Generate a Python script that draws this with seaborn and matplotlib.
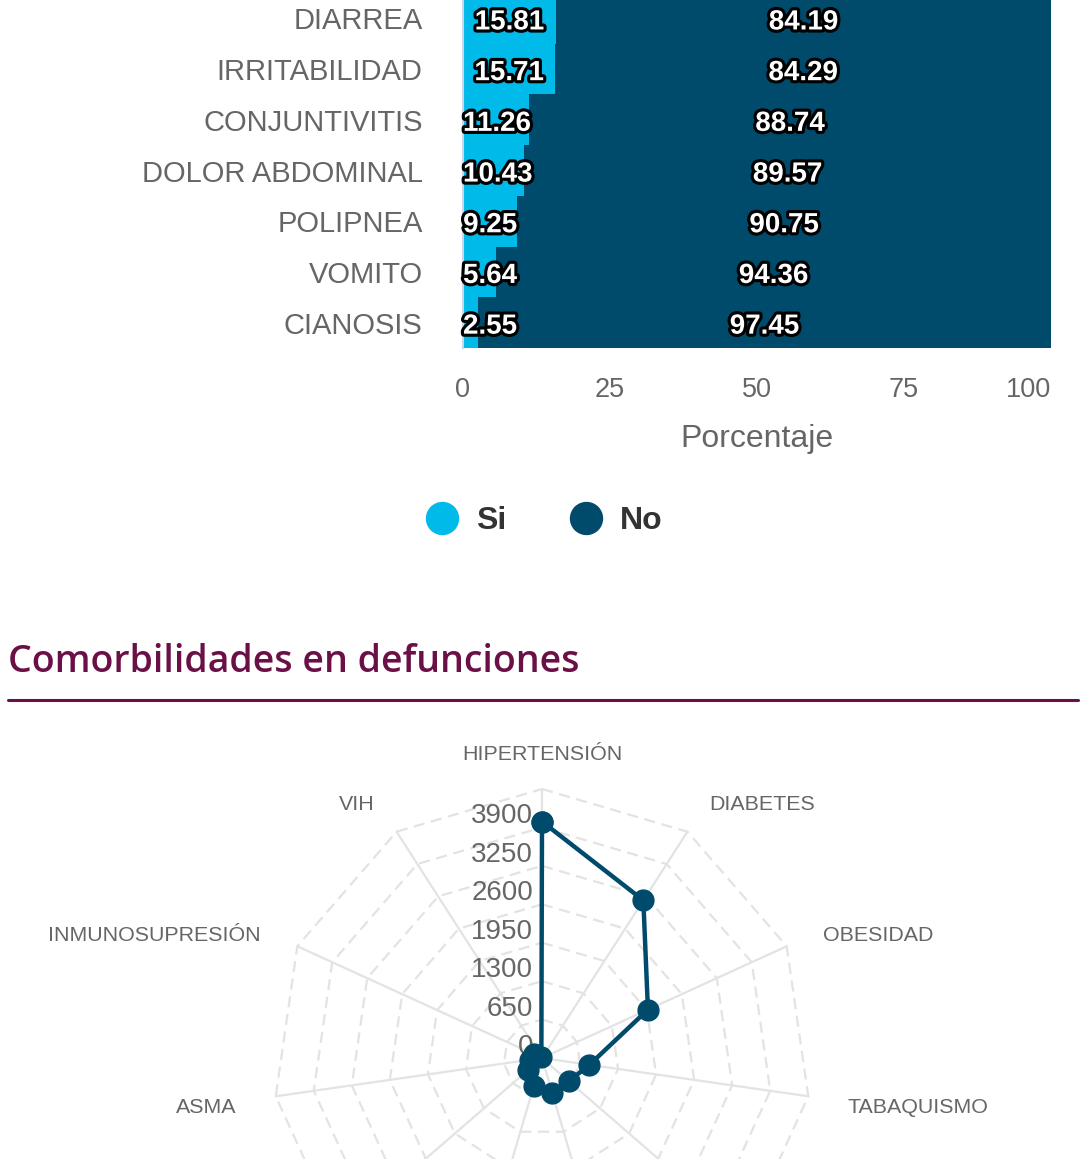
import numpy as np
import matplotlib
matplotlib.use("Agg")
import matplotlib.pyplot as plt
import matplotlib.patheffects as pe
from matplotlib.lines import Line2D
from matplotlib.transforms import offset_copy
import seaborn as sns

# ---------------- data ----------------
sintomas = ["DIARREA", "IRRITABILIDAD", "CONJUNTIVITIS", "DOLOR ABDOMINAL",
            "POLIPNEA", "VOMITO", "CIANOSIS"]
si_pct = [15.81, 15.71, 11.26, 10.43, 9.25, 5.64, 2.55]
no_pct = [84.19, 84.29, 88.74, 89.57, 90.75, 94.36, 97.45]
x_ticks = [0, 25, 50, 75, 100]
x_label = "Porcentaje"
legend_labels = ["Si", "No"]

titulo = "Comorbilidades en defunciones"
comorbilidades = ["HIPERTENSIÓN", "DIABETES", "OBESIDAD", "TABAQUISMO",
                  "RENAL CRÓNICA", "CARDIOVASCULAR", "EPOC", "OTRA CONDICIÓN",
                  "ASMA", "INMUNOSUPRESIÓN", "VIH"]
defunciones = [4000, 3170, 1970, 810, 600, 625, 490, 310, 200, 150, 20]
radial_ticks = [0, 650, 1300, 1950, 2600, 3250, 3900]
radial_max = 4550

# ---------------- style ----------------
C_SI = "#00bbea"
C_NO = "#004b6b"
C_TXT = "#666666"
C_GRID = "#e3e3e3"
C_TITLE = "#6b1046"

sns.set_theme(style="white")
plt.rcParams["font.family"] = ["Liberation Sans", "DejaVu Sans"]

W, H = 1091, 1159
fig = plt.figure(figsize=(W / 100, H / 100), dpi=100)
fig.patch.set_facecolor("white")

def fx(px):
    return px / W

def fy(py):
    return 1 - py / H

# ---------------- stacked bar chart ----------------
row_h = 50.7
n = len(sintomas)
bar_bottom = 348
bar_top = bar_bottom - n * row_h
ax = fig.add_axes([fx(463), fy(bar_bottom), fx(1051) - fx(463), (bar_bottom - bar_top) / H])
ax.set_facecolor("white")

totals = [s + o for s, o in zip(si_pct, no_pct)]
sns.barplot(x=totals, y=sintomas, orient="h", color=C_NO, saturation=1,
            width=1.0, linewidth=0, ax=ax, zorder=2)
sns.barplot(x=si_pct, y=sintomas, orient="h", color=C_SI, saturation=1,
            width=1.0, linewidth=0, ax=ax, zorder=3)

ax.set_xlim(0, 100)
ax.set_ylim(n - 0.5, -0.5)
ax.set_xticks(x_ticks)
ax.set_xticklabels([str(t) for t in x_ticks])
ax.tick_params(axis="x", length=0, pad=21, labelsize=19.5, labelcolor=C_TXT)
ax.tick_params(axis="y", length=0, pad=29, labelsize=21, labelcolor=C_TXT)
for lab in ax.get_yticklabels():
    lab.set_verticalalignment("center_baseline")
ax.get_xticklabels()[-1].set_horizontalalignment("right")
ax.set_xlabel(x_label, fontsize=23, color=C_TXT, labelpad=15)
ax.set_ylabel("")
ax.grid(axis="x", color=C_GRID, lw=1, zorder=0)
ax.set_axisbelow(True)
for s in ["top", "right", "bottom"]:
    ax.spines[s].set_visible(False)
ax.spines["left"].set_color("#ccd6eb")
ax.spines["left"].set_linewidth(1.5)
ax.spines["left"].set_zorder(4)

stroke = [pe.withStroke(linewidth=4.5, foreground="black")]
si_texts = []
for i, (s, o) in enumerate(zip(si_pct, no_pct)):
    t = ax.text(s / 2, i + 0.02, f"{s:.2f}", ha="center", va="center_baseline", color="white",
                fontsize=20, fontweight="bold", path_effects=stroke, zorder=6)
    si_texts.append(t)
    ax.text(s + o / 2, i + 0.02, f"{o:.2f}", ha="center", va="center_baseline", color="white",
            fontsize=20, fontweight="bold", path_effects=stroke, zorder=6)

fig.canvas.draw()
renderer = fig.canvas.get_renderer()
ax_x0 = ax.get_window_extent(renderer).x0
for t in si_texts:
    bb = t.get_window_extent(renderer)
    if bb.x0 < ax_x0:
        t.set_x(0)
        t.set_horizontalalignment("left")

# legend
handles = [Line2D([], [], marker="o", linestyle="", markersize=23,
                  markerfacecolor=c, markeredgecolor=c) for c in (C_SI, C_NO)]
leg = fig.legend(handles, legend_labels, loc="center", bbox_to_anchor=(0.499, fy(521)),
                 ncol=2, frameon=False, fontsize=23, handlelength=1.0,
                 handletextpad=0.55, columnspacing=2.0)
for txt in leg.get_texts():
    txt.set_fontweight("bold")
    txt.set_color("#333333")

# ---------------- title ----------------
fig.text(fx(8), fy(657), titulo, ha="left", va="center_baseline", fontsize=27,
         fontweight="semibold", color=C_TITLE, family=["Open Sans", "DejaVu Sans"])
fig.add_artist(Line2D([fx(8), fx(1078)], [fy(700), fy(700)], transform=fig.transFigure,
                      color=C_TITLE, lw=2.2))

# ---------------- radar chart ----------------
cx, cy, R = 542, 1058, 269
axr = fig.add_axes([fx(cx - R), fy(cy + R), 2 * R / W, 2 * R / H], projection="polar")
axr.set_theta_zero_location("N")
axr.set_theta_direction(-1)
axr.set_ylim(0, radial_max)
axr.grid(False)
axr.set_xticks([])
axr.set_yticks([])
axr.spines["polar"].set_visible(False)
axr.patch.set_alpha(0)

k = len(comorbilidades)
theta = np.arange(k) * 2 * np.pi / k
theta_c = np.append(theta, theta[0])

for t in theta:
    axr.plot([t, t], [0, radial_max], color=C_GRID, lw=1.6, zorder=1, clip_on=False)
rings = list(radial_ticks[1:]) + [radial_max]
for r in rings:
    axr.plot(theta_c, [r] * (k + 1), color=C_GRID, lw=1.6, ls=(0, (5, 3)),
             zorder=1, clip_on=False)

for v in radial_ticks:
    tr = offset_copy(axr.transData, fig=fig, x=-9, y=14, units="dots")
    axr.text(0, v, str(v), transform=tr, ha="right", va="center_baseline", fontsize=20,
             color=C_TXT, zorder=2, clip_on=False)

vals_c = np.append(defunciones, defunciones[0])
axr.plot(theta_c, vals_c, color=C_NO, lw=3.2, marker="o", markersize=15,
         zorder=5, clip_on=False)

lab_r = radial_max * 309 / R
fig_bb = fig.bbox
for t, name in zip(theta, comorbilidades):
    deg = np.degrees(t)
    if abs(deg) < 1e-6 or abs(deg - 180) < 1e-6:
        ha = "center"
    elif deg < 180:
        ha = "left"
    else:
        ha = "right"
    tr = offset_copy(axr.transData, fig=fig, x=0, y=-4, units="dots")
    txt = axr.text(t, lab_r, name, transform=tr, ha=ha, va="center_baseline",
                   fontsize=15.4, color=C_TXT, clip_on=False)
    # labels lying completely outside the visible canvas are not drawn
    bb = txt.get_window_extent(renderer)
    if bb.y1 < fig_bb.y0 + 2:
        txt.remove()

fig.savefig("out.png", dpi=100)
